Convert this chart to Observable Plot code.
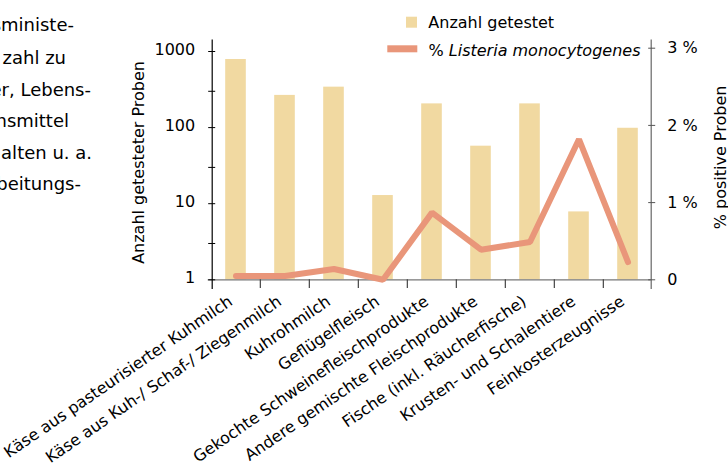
<!DOCTYPE html>
<html><head><meta charset="utf-8">
<script src="https://cdn.jsdelivr.net/npm/d3@7"></script>
<script src="https://cdn.jsdelivr.net/npm/@observablehq/plot@0.6"></script>
<style>
body{margin:0;background:#fff;overflow:hidden}
#wrap{position:relative;width:728px;height:470px;font-family:"DejaVu Sans";background:#fff}
#wrap svg{position:absolute;left:0;top:0}
</style></head><body><div id="wrap"></div>
<script>
const categories = [
  "Käse aus pasteurisierter Kuhmilch",
  "Käse aus Kuh-/ Schaf-/ Ziegenmilch",
  "Kuhrohmilch",
  "Geflügelfleisch",
  "Gekochte Schweinefleischprodukte",
  "Andere gemischte Fleischprodukte",
  "Fische (inkl. Räucherfische)",
  "Krusten- und Schalentiere",
  "Feinkosterzeugnisse"
];
const tested = [785, 265, 340, 12.8, 205, 57, 205, 7.8, 98];
const pctPositive = [0.05, 0.05, 0.14, 0, 0.87, 0.39, 0.49, 1.82, 0.23];
const countTicks = [1, 10, 100, 1000];
const countMinorTicks = [3, 30, 300];
const pctTicks = [0, 1, 2, 3];
const pctTickLabels = ["0", "1 %", "2 %", "3 %"];
const leftTitle = "Anzahl getesteter Proben";
const rightTitle = "% positive Proben";
const legendBar = "Anzahl getestet";
const legendLinePrefix = "% ";
const legendLineItalic = "Listeria monocytogenes";
const sideText = ["sministe-", "zahl zu", "er, Lebens-", "nsmittel", "alten u. a.", "beitungs-"];

const data = categories.map((c, i) => ({cat: c, n: tested[i], pct: pctPositive[i]}));

const BAR = "#f1d9a1", LINE = "#e9967a";
const W = 728, H = 470, ML = 211.7, MR = 77.3, MT = 39.5, MB = 182;
const xRange = [209, 653];
const bw = (xRange[1] - xRange[0]) / categories.length;
const base = {
  width: W, height: H, marginLeft: ML, marginRight: MR, marginTop: MT, marginBottom: MB,
  style: {fontFamily: "DejaVu Sans", fontSize: "16px", background: "transparent", color: "#000", overflow: "visible"},
  x: {type: "band", domain: categories, range: xRange, padding: 0, axis: null}
};

const plot1 = Plot.plot({
  ...base,
  y: {type: "log", domain: [1, 1000], range: [279.3, 51], axis: null, label: null},
  marks: [
    Plot.barY(data, {x: "cat", y1: () => 1, y2: "n", fill: BAR, insetLeft: 14.2, insetRight: 14.2}),
    Plot.ruleY([1], {stroke: "#777", strokeWidth: 1.3, insetLeft: -4}),
    Plot.tickX(categories.slice(1), {x: d => d, dx: -bw / 2, insetTop: 279.3 - MT, stroke: "#444", strokeWidth: 1.2}),
    Plot.axisY([...countTicks, ...countMinorTicks], {anchor: "left", tickSize: 7, dx: 3.5, tickFormat: () => "", stroke: "#000", label: null}),
    Plot.axisY(countTicks, {anchor: "left", tickSize: 0, tickPadding: 17, dy: -1.5, tickFormat: d => String(d), fill: "#000", label: null}),
    Plot.frame({anchor: "left", stroke: "#000", strokeWidth: 1.2}),
    Plot.text([leftTitle], {frameAnchor: "left", textAnchor: "middle", rotate: -90, dx: -73.4, dy: -1.8, fill: "#000"}),
    Plot.text(categories, {x: d => d, frameAnchor: "bottom", dy: 15.5, dx: -2.5, rotate: -34.5, textAnchor: "end", lineAnchor: "bottom", fill: "#000"})
  ]
});

const plot2 = Plot.plot({
  ...base,
  y: {type: "linear", domain: [0, 3], range: [279.3, 47.7], axis: null, label: null},
  marks: [
    Plot.line(data, {x: "cat", y: "pct", stroke: LINE, strokeWidth: 6, strokeLinecap: "round", strokeLinejoin: "miter"}),
    Plot.frame({anchor: "right", stroke: "#666", strokeWidth: 1.2}),
    Plot.axisY(pctTicks, {anchor: "right", tickSize: 7, dx: -3.5, tickFormat: () => "", stroke: "#555", label: null}),
    Plot.axisY(pctTicks, {anchor: "right", tickSize: 0, tickPadding: 16, tickFormat: d => pctTickLabels[pctTicks.indexOf(d)], fill: "#000", label: null}),
    Plot.text([rightTitle], {frameAnchor: "right", textAnchor: "middle", rotate: -90, dx: 69.3, dy: -6.8, fill: "#000"})
  ]
});

const wrap = document.getElementById("wrap");
wrap.appendChild(plot1);
wrap.appendChild(plot2);

// overlay: legend and cropped side text
const ov = d3.select(wrap).append("svg")
  .attr("width", W).attr("height", H)
  .style("font-family", "DejaVu Sans");
ov.append("rect").attr("x", 406).attr("y", 16.7).attr("width", 11).attr("height", 11).attr("fill", BAR);
ov.append("text").attr("x", 428.3).attr("y", 27.7).attr("font-size", 16).text(legendBar);
ov.append("rect").attr("x", 387.3).attr("y", 45.3).attr("width", 30).attr("height", 7).attr("fill", LINE);
const t2 = ov.append("text").attr("x", 428.5).attr("y", 55.5).attr("font-size", 16);
t2.append("tspan").text(legendLinePrefix);
t2.append("tspan").attr("font-style", "italic").text(legendLineItalic);

const sideRight = [74, 66, 91, 69, 92, 81];
const sideBase = [31, 63.5, 95.5, 127, 158.5, 190];
sideText.forEach((s, i) => {
  ov.append("text").attr("x", sideRight[i]).attr("y", sideBase[i])
    .attr("text-anchor", "end").attr("font-size", 18).attr("fill", "#000").text(s);
});
</script></body></html>
